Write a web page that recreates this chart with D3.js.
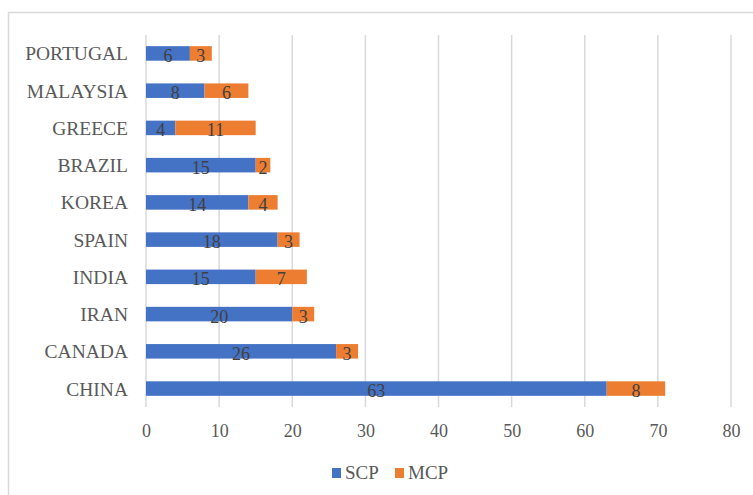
<!DOCTYPE html>
<html>
<head>
<meta charset="utf-8">
<script src="https://cdn.jsdelivr.net/npm/d3@7"></script>
<style>
    body { margin: 0; background: #fff; }
</style>
</head>
<body>
<svg id="chart" width="753" height="495"></svg>
<script>
const COUNTRIES = ["PORTUGAL", "MALAYSIA", "GREECE", "BRAZIL", "KOREA", "SPAIN", "INDIA", "IRAN", "CANADA", "CHINA"];
const SCP = [6, 8, 4, 15, 14, 18, 15, 20, 26, 63];
const MCP = [3, 6, 11, 2, 4, 3, 7, 3, 3, 8];
const SERIES = ["SCP", "MCP"];
const COLORS = ["#4472C4", "#ED7D31"];
const X_TICKS = [0, 10, 20, 30, 40, 50, 60, 70, 80];

const FONT = '"Liberation Serif", "Times New Roman", serif';
const svg = d3.select("#chart");
const textColor = "#595959";

// chart border (runs off the right and bottom edge)
svg.append("rect")
    .attr("x", 8.5).attr("y", 12.5)
    .attr("width", 800).attr("height", 600)
    .attr("fill", "none")
    .attr("stroke", "#d9d9d9")
    .attr("stroke-width", 1.5);

const margin = {left: 146, top: 35, bottom: 88};
const height = 495 - margin.top - margin.bottom;

const g = svg.append("g").attr("transform", `translate(${margin.left},${margin.top})`);

const x = d3.scaleLinear().domain([0, 80]).range([0, 585]);
const y = d3.scaleBand().domain(COUNTRIES).range([0, height]).paddingInner(0.61).paddingOuter(0.3);

// gridlines
g.selectAll("line.grid")
    .data(X_TICKS)
    .enter()
    .append("line")
    .attr("class", "grid")
    .attr("x1", d => x(d)).attr("x2", d => x(d))
    .attr("y1", 0).attr("y2", height)
    .attr("stroke", "#d9d9d9")
    .attr("stroke-width", 1.5);

// stacked data
let rows = COUNTRIES.map((c, i) => ({country: c, SCP: SCP[i], MCP: MCP[i]}));
let stacked = d3.stack().keys(SERIES)(rows);

let layers = g.selectAll("g.layer")
    .data(stacked)
    .enter()
    .append("g")
    .attr("class", "layer")
    .attr("fill", (d, i) => COLORS[i]);

layers.selectAll("rect")
    .data(d => d)
    .enter()
    .append("rect")
    .attr("x", d => x(d[0]))
    .attr("y", d => y(d.data.country))
    .attr("width", d => x(d[1]) - x(d[0]))
    .attr("height", y.bandwidth());

// value labels
layers.selectAll("text")
    .data(d => d)
    .enter()
    .append("text")
    .attr("x", d => x((d[0] + d[1]) / 2))
    .attr("y", d => y(d.data.country) + y.bandwidth() / 2 + 8.5)
    .attr("text-anchor", "middle")
    .style("font-family", FONT)
    .style("font-size", "18px")
    .attr("fill", "#404040")
    .text(d => d[1] - d[0]);

// category labels
g.selectAll("text.cat")
    .data(COUNTRIES)
    .enter()
    .append("text")
    .attr("class", "cat")
    .attr("x", -18)
    .attr("y", d => y(d) + y.bandwidth() / 2 + 7)
    .attr("text-anchor", "end")
    .style("font-family", FONT)
    .style("font-size", "19.5px")
    .attr("fill", textColor)
    .text(d => d);

// x axis tick labels
let xAxis = g.append("g")
    .attr("transform", `translate(0,${height})`)
    .call(d3.axisBottom(x).tickValues(X_TICKS).tickSize(0).tickPadding(17));
xAxis.select(".domain").remove();
xAxis.selectAll("text")
    .style("font-family", FONT)
    .style("font-size", "18px")
    .attr("fill", textColor);

// legend
let legend = svg.append("g").attr("transform", "translate(332,468)");
let items = legend.selectAll("g")
    .data(SERIES)
    .enter()
    .append("g")
    .attr("transform", (d, i) => `translate(${i * 63},0)`);
items.append("rect")
    .attr("width", 9).attr("height", 10)
    .attr("fill", (d, i) => COLORS[i]);
items.append("text")
    .attr("x", 13).attr("y", 11)
    .style("font-family", FONT)
    .style("font-size", "19px")
    .attr("fill", textColor)
    .text(d => d);
</script>
</body>
</html>
